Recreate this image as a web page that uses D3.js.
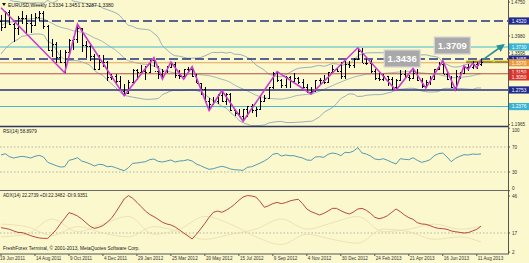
<!DOCTYPE html>
<html><head><meta charset="utf-8">
<script src="https://cdn.jsdelivr.net/npm/d3@7"></script>
<style>html,body{margin:0;padding:0;background:#fbf8cd;}svg{display:block;font-family:"Liberation Sans",Arial,sans-serif;}</style>
</head><body><svg id="c" width="529" height="263"></svg>
<script>
// ---------- DATA ----------
const dateLabels = ["19 Jun 2011","14 Aug 2011","9 Oct 2011","4 Dec 2011","29 Jan 2012","25 Mar 2012","20 May 2012","15 Jul 2012","9 Sep 2012","4 Nov 2012","30 Dec 2012","24 Feb 2013","21 Apr 2013","16 Jun 2013","11 Aug 2013"];
const dateLabelIdx = [0,8,16,24,32,40,48,56,64,72,80,88,96,104,112];
const priorCloses = [1.3580,1.3530,1.3700,1.3750,1.3980,1.3900,1.4180,1.4090,1.4230,1.4480,1.4430,1.4590,1.4810,1.4530,1.4120,1.4150,1.4300,1.4640,1.4350,1.4320];
const open = [1.4320,1.4180,1.4530,1.4260,1.4150,1.4390,1.4390,1.4280,1.4240,1.4400,1.4500,1.4200,1.3650,1.3790,1.3500,1.3390,1.3620,1.3880,1.3900,1.4150,1.3780,1.3750,1.3520,1.3240,1.3390,1.3380,1.3040,1.3060,1.2960,1.2720,1.2680,1.2930,1.3210,1.3150,1.3190,1.3160,1.3440,1.3190,1.3120,1.3180,1.3270,1.3340,1.3090,1.3080,1.3220,1.3240,1.3080,1.2910,1.2780,1.2510,1.2430,1.2510,1.2640,1.2510,1.2660,1.2290,1.2240,1.2160,1.2310,1.2390,1.2290,1.2330,1.2510,1.2580,1.2810,1.3130,1.2980,1.2860,1.3040,1.2950,1.3020,1.2940,1.2830,1.2710,1.2740,1.2970,1.2990,1.2930,1.3160,1.3220,1.3190,1.3070,1.3340,1.3320,1.3460,1.3630,1.3370,1.3360,1.3190,1.3020,1.3000,1.3080,1.3000,1.2820,1.2990,1.3110,1.3050,1.3030,1.3130,1.2990,1.2840,1.2940,1.3000,1.3220,1.3340,1.3120,1.3010,1.2830,1.3070,1.3140,1.3280,1.3280,1.3340,1.3334];
const high = [1.4450,1.4540,1.4580,1.4280,1.4440,1.4540,1.4450,1.4470,1.4500,1.4550,1.4550,1.4240,1.3920,1.3840,1.3660,1.3650,1.3900,1.3950,1.4245,1.4160,1.3870,1.3800,1.3570,1.3550,1.3550,1.3420,1.3120,1.3120,1.3080,1.2880,1.2990,1.3230,1.3230,1.3320,1.3290,1.3440,1.3486,1.3290,1.3230,1.3290,1.3390,1.3390,1.3210,1.3230,1.3270,1.3280,1.3110,1.2920,1.2820,1.2560,1.2600,1.2650,1.2740,1.2690,1.2690,1.2330,1.2330,1.2330,1.2390,1.2440,1.2370,1.2590,1.2640,1.2820,1.3170,1.3172,1.3000,1.3060,1.3060,1.3140,1.3050,1.3000,1.2880,1.2810,1.2980,1.3030,1.3090,1.3170,1.3310,1.3260,1.3390,1.3400,1.3400,1.3480,1.3711,1.3710,1.3470,1.3430,1.3220,1.3140,1.3110,1.3080,1.3050,1.3000,1.3200,1.3200,1.3100,1.3243,1.3240,1.3030,1.2980,1.3060,1.3240,1.3390,1.3416,1.3190,1.3080,1.3200,1.3170,1.3300,1.3350,1.3400,1.3390,1.3451];
const low = [1.4100,1.4150,1.4240,1.3840,1.4000,1.4250,1.4050,1.4050,1.4230,1.4310,1.4130,1.3630,1.3500,1.3360,1.3360,1.3145,1.3580,1.3650,1.3810,1.3610,1.3480,1.3420,1.3210,1.3210,1.3280,1.2950,1.2990,1.2860,1.2720,1.2624,1.2660,1.2920,1.2980,1.3110,1.2980,1.3150,1.3280,1.3000,1.3000,1.3140,1.3250,1.3030,1.3000,1.3000,1.3150,1.3040,1.2900,1.2640,1.2500,1.2288,1.2400,1.2440,1.2480,1.2410,1.2280,1.2160,1.2140,1.2042,1.2130,1.2240,1.2130,1.2330,1.2470,1.2560,1.2780,1.2940,1.2800,1.2800,1.2800,1.2950,1.2880,1.2800,1.2680,1.2661,1.2700,1.2880,1.2880,1.2900,1.3150,1.3150,1.3000,1.3000,1.3250,1.3250,1.3440,1.3360,1.3310,1.3140,1.2970,1.2950,1.2960,1.2840,1.2750,1.2745,1.2990,1.3000,1.2950,1.3000,1.2960,1.2800,1.2796,1.2860,1.2980,1.3200,1.3120,1.2990,1.2800,1.2755,1.3000,1.3140,1.3180,1.3230,1.3230,1.3287];
const close = [1.4180,1.4530,1.4260,1.4150,1.4390,1.4390,1.4280,1.4240,1.4400,1.4500,1.4200,1.3650,1.3790,1.3500,1.3390,1.3620,1.3880,1.3900,1.4150,1.3780,1.3750,1.3520,1.3240,1.3390,1.3380,1.3040,1.3060,1.2960,1.2720,1.2680,1.2930,1.3210,1.3150,1.3190,1.3160,1.3440,1.3190,1.3120,1.3180,1.3270,1.3340,1.3090,1.3080,1.3220,1.3240,1.3080,1.2910,1.2780,1.2510,1.2430,1.2510,1.2640,1.2510,1.2660,1.2290,1.2240,1.2160,1.2310,1.2390,1.2290,1.2330,1.2510,1.2580,1.2810,1.3130,1.2980,1.2860,1.3040,1.2950,1.3020,1.2940,1.2830,1.2710,1.2740,1.2970,1.2990,1.2930,1.3160,1.3220,1.3190,1.3070,1.3340,1.3320,1.3460,1.3630,1.3370,1.3360,1.3190,1.3020,1.3000,1.3080,1.3000,1.2820,1.2990,1.3110,1.3050,1.3030,1.3130,1.2990,1.2840,1.2940,1.3000,1.3220,1.3340,1.3120,1.3010,1.2830,1.3070,1.3140,1.3280,1.3280,1.3340,1.3330,1.3380];
const zzIdx = [0,15,18,29,36,38,40,43,45,49,52,57,65,73,84,93,97,100,104,107,109,110,111,112,113];
const zzPrice = [1.4620,1.3145,1.4245,1.2624,1.3486,1.3000,1.3390,1.3000,1.3280,1.2288,1.2740,1.2042,1.3172,1.2661,1.3711,1.2745,1.3243,1.2796,1.3416,1.2755,1.3300,1.3220,1.3360,1.3260,1.3440];
const rsi = [57.2,59.3,54.5,52.4,54.0,55.1,54.0,52.4,55.1,56.7,54.0,45.5,42.8,40.1,38.0,38.5,48.7,50.3,52.9,47.6,45.5,42.8,39.6,42.3,41.7,38.5,39.1,36.9,34.3,32.1,36.9,43.9,44.4,45.5,46.5,49.7,50.8,47.1,46.0,47.6,49.2,46.0,47.6,48.1,49.7,47.6,42.8,40.1,36.9,34.3,35.3,37.5,39.1,37.5,34.8,33.7,33.2,32.7,37.5,38.5,41.2,44.4,47.6,51.9,58.3,59.9,55.6,57.2,56.1,56.1,54.0,52.4,49.2,48.7,54.0,54.5,53.5,58.3,60.4,59.3,56.1,61.5,60.9,63.6,68.9,60.4,58.8,55.6,50.8,49.7,51.3,48.7,45.5,42.8,51.3,50.3,49.7,52.9,48.7,45.5,47.1,49.7,56.1,59.3,60.4,54.0,46.5,51.9,55.1,57.7,57.2,58.8,58.3,58.9];
const adx = [21.2,20.6,19.9,18.6,17.5,17.3,16.2,14.9,13.9,13.1,12.8,12.8,16.0,19.6,24.3,28.5,32.9,31.9,30.3,28.0,25.1,22.2,20.6,21.4,22.8,25.4,28.5,33.2,38.4,43.6,46.3,44.2,41.0,37.6,34.2,31.6,29.8,27.7,25.4,24.1,23.3,21.7,19.4,17.0,14.7,12.3,16.0,20.1,24.6,29.3,33.2,34.2,33.2,34.8,36.9,39.5,42.6,45.2,46.3,46.0,45.2,41.6,37.1,38.4,40.0,41.0,40.0,40.8,42.1,42.9,43.4,40.0,35.8,33.7,32.4,31.1,32.4,34.2,36.3,36.3,34.5,32.9,31.9,33.5,35.8,36.3,34.8,32.4,29.3,28.2,29.0,30.6,33.2,35.8,33.7,31.1,29.0,27.7,25.1,24.1,23.8,22.8,21.4,20.6,20.4,19.9,18.6,18.0,17.5,17.0,17.3,18.6,19.9,22.3];
const diIdx = [0,6,12,18,24,30,36,42,48,54,60,66,72,78,84,90,96,102,108,113];
const plusDI = [24,22,15,22,17,14,22,18,12,16,20,28,20,25,30,18,20,24,20,22.3];
const minusDI = [14,16,28,18,24,30,16,20,30,24,14,8,16,12,9,20,18,12,14,9.9];
const hLinePrices = [1.4320,1.3730,1.3455,1.3370,1.3120,1.2753,1.2376];
const hLineKinds  = ["navyDash","cyan","navyDash","orange","red","navy","cyan"];
const boxPrices = [1.4320,1.3730,1.3455,1.3370,1.3150,1.3050,1.2753,1.2376];
const boxTexts  = ["1.4320","1.3730","1.3455","1.3370","1.3150","1.3050","1.2753","1.2376"];
const boxKinds  = ["navy","cyan","navy","orange","red","red","navy","cyan"];
const priceTicks = [1.4750,1.3980,1.3595,1.1965];
const rsiTicks = [100,70,30,0];
const rsiLevels = [70,30];
const adxTicks = [46,17,2];
const adxLevels = [17];
const callouts = [{i:90.2,p:1.3661,t:"1.3436"},{i:102,p:1.3956,t:"1.3709"}];
const arrowFrom = {i:113.3,p:1.3430}, arrowTo = {i:118.3,p:1.3775};
const zone = {i0:109.5,p0:1.3435,p1:1.3400};
const titleText = "EURUSD,Weekly  1.3334 1.3451 1.3287 1.3380";
const rsiText = "RSI(14) 58.8979";
const adxText = "ADX(14) 22.2739 +DI:22.3482 -DI:9.9351";
const copyText = "FreshForex Terminal, \u00A9 2001-2013, MetaQuotes Software Corp.";

// ---------- STYLE ----------
const col = {navy:"#1f2b8f",navyDash:"#1f2b8f",cyan:"#38b3d3",orange:"#e89a3c",red:"#d8332b"};
const lineCol = {navyDash:"#26307e",navy:"#26307e",cyan:"#45b7cf",orange:"#e6a25e",red:"#b95040"};
const svg = d3.select("#c");
const PR = 508;
const x = d3.scaleLinear().domain([0,113]).range([1,481]);
const yP = d3.scaleLinear().domain([1.1934,1.4797]).range([126,0]);
const yR = d3.scaleLinear().domain([0,100]).range([190.75,128.25]);
const yA = d3.scaleLinear().domain([0.94,49.9]).range([253.5,191]);

svg.append("rect").attr("width",529).attr("height",263).attr("fill","#fbf8cd");
const defs = svg.append("defs");
defs.append("clipPath").attr("id","cm").append("rect").attr("x",0).attr("y",0).attr("width",PR).attr("height",126);
defs.append("marker").attr("id","ah").attr("viewBox","0 0 10 10").attr("refX",8).attr("refY",5)
  .attr("markerWidth",5).attr("markerHeight",5).attr("orient","auto")
  .append("path").attr("d","M0,0L10,5L0,10z").attr("fill","#2b8f97");

const main = svg.append("g").attr("clip-path","url(#cm)");

// Bollinger bands (20,2) computed from closes
const allC = priorCloses.concat(close);
const bb = close.map((c,i)=>{const w=allC.slice(i+1,i+21);const m=d3.mean(w);const s=Math.sqrt(d3.mean(w,v=>(v-m)*(v-m)));return {i,m,u:m+2*s,l:m-2*s};});
["u","m","l"].forEach(k=>{
  main.append("path").datum(bb).attr("fill","none").attr("stroke",k==="m"?"#8fa7b8":"#7e9cb6").attr("stroke-width",0.8)
    .attr("d",d3.line().x(d=>x(d.i)).y(d=>yP(d[k])).curve(d3.curveMonotoneX));
});

// horizontal lines
hLinePrices.forEach((p,j)=>{
  const k=hLineKinds[j];
  main.append("line").attr("x1",0).attr("x2",PR).attr("y1",yP(p)).attr("y2",yP(p))
    .attr("stroke",lineCol[k]).attr("stroke-width",k==="navy"?1.6:(k==="navyDash"?1.4:1.1))
    .attr("stroke-dasharray",k==="navyDash"?"9,4":null);
});

// price zone
main.append("rect").attr("x",x(zone.i0)).attr("y",yP(zone.p0)).attr("width",PR-x(zone.i0)).attr("height",yP(zone.p1)-yP(zone.p0)).attr("fill","#f3e52a");
main.append("line").attr("x1",x(zone.i0)).attr("x2",PR).attr("y1",yP(zone.p1)+0.5).attr("y2",yP(zone.p1)+0.5).attr("stroke","#222").attr("stroke-width",0.8);
main.append("circle").attr("cx",x(116)).attr("cy",yP(zone.p0)+1).attr("r",1.3).attr("fill","#c8e040");

// OHLC bars
const bars = main.append("g").attr("stroke","#000").attr("stroke-width",1).attr("shape-rendering","crispEdges");
close.forEach((c,i)=>{
  const xi = Math.round(x(i))+0.5;
  bars.append("line").attr("x1",xi).attr("x2",xi).attr("y1",yP(high[i])).attr("y2",yP(low[i]));
  bars.append("line").attr("x1",xi-1.5).attr("x2",xi).attr("y1",Math.round(yP(open[i]))+0.5).attr("y2",Math.round(yP(open[i]))+0.5);
  bars.append("line").attr("x1",xi).attr("x2",xi+1.5).attr("y1",Math.round(yP(c))+0.5).attr("y2",Math.round(yP(c))+0.5);
});

// zigzag
main.append("path").datum(zzIdx.map((d,j)=>[d,zzPrice[j]])).attr("fill","none").attr("stroke","#c93ccf").attr("stroke-width",1.6)
  .attr("d",d3.line().x(d=>x(d[0])).y(d=>yP(d[1])));

// arrow
main.append("line").attr("x1",x(arrowFrom.i)).attr("y1",yP(arrowFrom.p)).attr("x2",x(arrowTo.i)).attr("y2",yP(arrowTo.p))
  .attr("stroke","#2b8f97").attr("stroke-width",1.6).attr("marker-end","url(#ah)");

// callouts
callouts.forEach(c=>{
  const g = main.append("g").attr("transform",`translate(${x(c.i)},${yP(c.p)})`);
  g.append("rect").attr("width",36).attr("height",17).attr("fill","#a9a9a9").attr("stroke","#d6d6d6").attr("stroke-width",1.2);
  g.append("text").attr("x",18).attr("y",12).attr("text-anchor","middle").attr("fill","#fff").attr("font-size",9.5).attr("font-weight","bold").text(c.t);
});

// title
svg.append("path").attr("d","M2,3L6,3L4,6z").attr("fill","#111");
svg.append("text").attr("x",8).attr("y",6.5).attr("font-size",5).attr("fill","#111").text(titleText);

// panels separators
svg.append("line").attr("x1",0).attr("x2",PR+1).attr("y1",126.5).attr("y2",126.5).attr("stroke","#2e3560").attr("stroke-width",1.6);
svg.append("line").attr("x1",0).attr("x2",PR+1).attr("y1",190.5).attr("y2",190.5).attr("stroke","#6a6a6a").attr("stroke-width",1.2);
svg.append("line").attr("x1",0).attr("x2",PR+1).attr("y1",254).attr("y2",254).attr("stroke","#555").attr("stroke-width",1);
svg.append("line").attr("x1",PR+0.5).attr("x2",PR+0.5).attr("y1",0).attr("y2",254).attr("stroke","#555").attr("stroke-width",1);

// price ticks
priceTicks.forEach(p=>{
  svg.append("line").attr("x1",PR).attr("x2",PR+2).attr("y1",yP(p)).attr("y2",yP(p)).attr("stroke","#555");
  svg.append("text").attr("x",PR+3).attr("y",yP(p)+1.8).attr("font-size",4.6).attr("fill","#333").text(d3.format(".4f")(p));
});
// price boxes
boxPrices.forEach((p,j)=>{
  const y=yP(p);
  svg.append("rect").attr("x",PR+1).attr("y",y-3.6).attr("width",20).attr("height",7.2).attr("fill",col[boxKinds[j]]);
  svg.append("text").attr("x",PR+11).attr("y",y+1.8).attr("text-anchor","middle").attr("font-size",4.8).attr("fill","#fff").text(boxTexts[j]);
});

// RSI
rsiLevels.forEach(v=>svg.append("line").attr("x1",0).attr("x2",PR).attr("y1",yR(v)).attr("y2",yR(v)).attr("stroke","#9a9a9a").attr("stroke-width",0.7).attr("stroke-dasharray","1.5,2"));
svg.append("path").datum(rsi).attr("fill","none").attr("stroke","#3f8fae").attr("stroke-width",0.9)
  .attr("d",d3.line().x((d,i)=>x(i)).y(d=>yR(d)));
rsiTicks.forEach(v=>{
  svg.append("line").attr("x1",PR).attr("x2",PR+2).attr("y1",yR(v)).attr("y2",yR(v)).attr("stroke","#555");
  svg.append("text").attr("x",PR+4).attr("y",yR(v)+(v===100?3.5:(v===0?-0.5:1.6))).attr("font-size",4.6).attr("fill","#333").text(v);
});
svg.append("text").attr("x",3).attr("y",133).attr("font-size",4.6).attr("fill","#222").text(rsiText);

// ADX
adxLevels.forEach(v=>svg.append("line").attr("x1",0).attr("x2",PR).attr("y1",yA(v)).attr("y2",yA(v)).attr("stroke","#9a9a9a").attr("stroke-width",0.7).attr("stroke-dasharray","1.5,2"));
[plusDI,minusDI].forEach(arr=>{
  svg.append("path").datum(arr).attr("fill","none").attr("stroke","#eadcae").attr("stroke-width",0.8)
    .attr("d",d3.line().x((d,j)=>x(diIdx[j])).y(d=>yA(d)).curve(d3.curveMonotoneX));
});
svg.append("path").datum(adx).attr("fill","none").attr("stroke","#b0362b").attr("stroke-width",0.9)
  .attr("d",d3.line().x((d,i)=>x(i)).y(d=>yA(d)));
adxTicks.forEach(v=>{
  svg.append("line").attr("x1",PR).attr("x2",PR+2).attr("y1",yA(v)).attr("y2",yA(v)).attr("stroke","#555");
  svg.append("text").attr("x",PR+4).attr("y",yA(v)+1.6).attr("font-size",4.6).attr("fill","#333").text(v);
});
svg.append("text").attr("x",3).attr("y",196.5).attr("font-size",4.6).attr("fill","#222").text(adxText);
svg.append("text").attr("x",3).attr("y",250).attr("font-size",4.8).attr("fill","#222").text(copyText);

// date axis
dateLabelIdx.forEach((i,j)=>{
  svg.append("line").attr("x1",x(i)).attr("x2",x(i)).attr("y1",254).attr("y2",256).attr("stroke","#555");
  svg.append("text").attr("x",x(i)+(i===0?-1:1)).attr("y",260).attr("font-size",4.6).attr("fill","#333").text(dateLabels[j]);
});
</script></body></html>
